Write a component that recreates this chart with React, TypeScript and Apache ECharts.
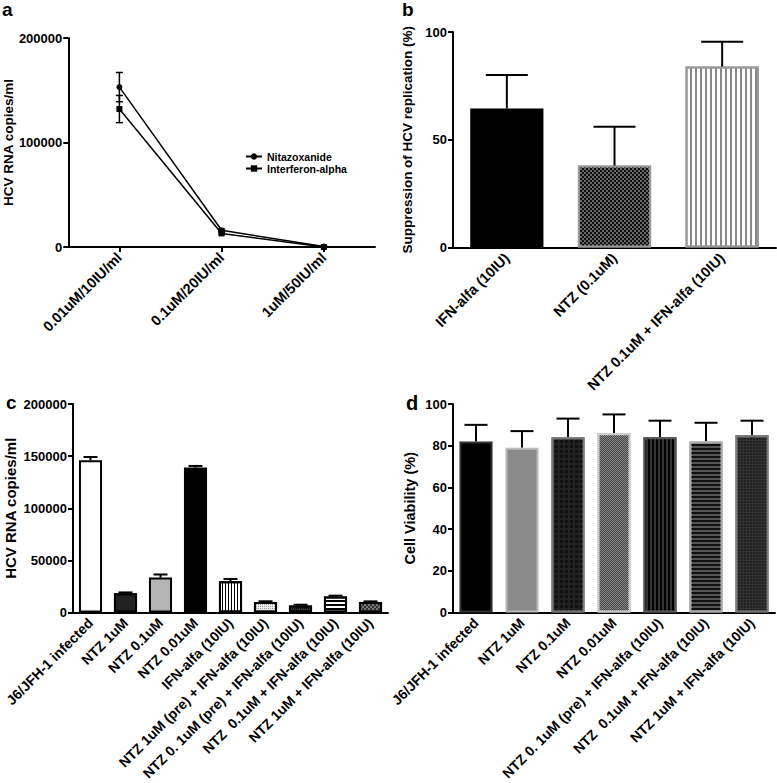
import React, { useEffect, useRef } from "react";
import * as echarts from "echarts";

// ---------- Panel a ----------
const catsA = ["0.01uM/10IU/ml", "0.1uM/20IU/ml", "1uM/50IU/ml"];
const ntzA = [153000, 16000, 500];
const ntzErrA = [14000, 1200, 300];
const ifnA = [132000, 13000, 0];
const ifnErrA = [13000, 900, 200];

// ---------- Panel b ----------
const catsB = ["IFN-alfa (10IU)", "NTZ (0.1uM)", "NTZ 0.1uM + IFN-alfa (10IU)"];
const valB = [64.5, 38, 84];
const errB = [15.5, 18, 11.5];

// ---------- Panel c ----------
const catsC = [
  "J6/JFH-1 infected",
  "NTZ 1uM",
  "NTZ 0.1uM",
  "NTZ 0.01uM",
  "IFN-alfa (10IU)",
  "NTZ 1uM (pre) + IFN-alfa (10IU)",
  "NTZ 0. 1uM (pre) + IFN-alfa (10IU)",
  "NTZ  0.1uM + IFN-alfa (10IU)",
  "NTZ 1uM + IFN-alfa (10IU)",
];
const valC = [146000, 18500, 33500, 139000, 30000, 10000, 6800, 15500, 10000];
const errC = [3200, 800, 3000, 1600, 2200, 800, 700, 700, 700];

// ---------- Panel d ----------
const catsD = [
  "J6/JFH-1 infected",
  "NTZ 1uM",
  "NTZ 0.1uM",
  "NTZ 0.01uM",
  "NTZ 0. 1uM (pre) + IFN-alfa (10IU)",
  "NTZ  0.1uM + IFN-alfa (10IU)",
  "NTZ 1uM + IFN-alfa (10IU)",
];
const valD = [82, 79, 84, 86, 84, 82, 85];
const errD = [8, 8, 9, 9, 8, 9, 7];

const FONT = "'Liberation Sans', Arial, Helvetica, sans-serif";

const checker = (fg: string, bg: string, s: number) => ({
  symbol: "rect",
  symbolSize: 1,
  color: fg,
  backgroundColor: bg,
  dashArrayX: [
    [s, s],
    [0, s, s, 0],
  ],
  dashArrayY: [s, 0],
});
const grid = (fg: string, bg: string, cell: number, line: number) => ({
  symbol: "rect",
  symbolSize: 1,
  color: fg,
  backgroundColor: bg,
  dashArrayX: [cell, line],
  dashArrayY: [cell, line],
});
const vstripe = (fg: string, bg: string, w: number, gap: number) => ({
  symbol: "rect",
  symbolSize: 1,
  color: fg,
  backgroundColor: bg,
  dashArrayX: [w, gap],
  dashArrayY: [4, 0],
});
const hstripe = (fg: string, bg: string, w: number, gap: number) => ({
  symbol: "rect",
  symbolSize: 1,
  color: fg,
  backgroundColor: bg,
  dashArrayX: [4, 0],
  dashArrayY: [w, gap],
});

const stylesB = [
  { color: "#000", borderColor: "#000", borderWidth: 2 },
  { color: "#666", borderColor: "#999", borderWidth: 2, decal: checker("#111", "#777", 2) },
  { color: "#fff", borderColor: "#999", borderWidth: 2, decal: vstripe("#888", "#fff", 2, 2.3) },
];
const stylesC = [
  { color: "#fff", borderColor: "#000", borderWidth: 2 },
  { color: "#222", borderColor: "#000", borderWidth: 2, decal: grid("#222", "#fff", 3, 1) },
  { color: "#b4b4b4", borderColor: "#000", borderWidth: 2 },
  { color: "#000", borderColor: "#000", borderWidth: 2 },
  { color: "#fff", borderColor: "#000", borderWidth: 2, decal: vstripe("#000", "#fff", 1, 2) },
  { color: "#eee", borderColor: "#000", borderWidth: 2, decal: grid("#999", "#f4f4f4", 1, 1) },
  { color: "#333", borderColor: "#000", borderWidth: 2, decal: grid("#000", "#666", 1, 1) },
  { color: "#fff", borderColor: "#000", borderWidth: 2, decal: hstripe("#000", "#fff", 1.5, 2) },
  { color: "#777", borderColor: "#000", borderWidth: 2, decal: checker("#333", "#aaa", 2) },
];
const stylesD = [
  { color: "#000", borderColor: "#333", borderWidth: 2 },
  { color: "#8a8a8a", borderColor: "#bbb", borderWidth: 2 },
  { color: "#222", borderColor: "#777", borderWidth: 2, decal: grid("#111", "#777", 3, 1.3) },
  { color: "#888", borderColor: "#ccc", borderWidth: 2, decal: checker("#444", "#bbb", 1) },
  { color: "#333", borderColor: "#555", borderWidth: 2, decal: vstripe("#000", "#888", 2, 1.5) },
  { color: "#555", borderColor: "#aaa", borderWidth: 2, decal: hstripe("#111", "#999", 2, 1.5) },
  { color: "#333", borderColor: "#777", borderWidth: 2, decal: grid("#222", "#555", 2, 1) },
];

function errRender(capW: number, both: boolean, lw: number) {
  return (params: any, api: any) => {
    const x = api.value(0);
    const y = api.value(1);
    const e = api.value(2);
    const mid = api.coord([x, y]);
    const top = api.coord([x, y + e]);
    const bot = api.coord([x, y - e]);
    const st = { stroke: "#000", lineWidth: lw };
    const children: any[] = [
      { type: "line", shape: { x1: mid[0], y1: mid[1], x2: top[0], y2: top[1] }, style: st },
      { type: "line", shape: { x1: top[0] - capW / 2, y1: top[1], x2: top[0] + capW / 2, y2: top[1] }, style: st },
    ];
    if (both) {
      children.push(
        { type: "line", shape: { x1: mid[0], y1: mid[1], x2: bot[0], y2: bot[1] }, style: st },
        { type: "line", shape: { x1: bot[0] - capW / 2, y1: bot[1], x2: bot[0] + capW / 2, y2: bot[1] }, style: st }
      );
    }
    return { type: "group", children };
  };
}

const axisLineStyle = { show: true, lineStyle: { color: "#000", width: 2 } };

function catAxis(gridIndex: number, data: string[], fontSize: number, ticks: boolean) {
  return {
    type: "category",
    gridIndex,
    data,
    axisLine: axisLineStyle,
    axisTick: { show: ticks, alignWithLabel: true, length: 5, lineStyle: { color: "#000", width: 2 } },
    axisLabel: {
      interval: 0,
      rotate: 45,
      margin: 8,
      color: "#000",
      fontFamily: FONT,
      fontWeight: "bold",
      fontSize,
    },
    splitLine: { show: false },
  };
}

function valAxis(
  gridIndex: number,
  max: number,
  interval: number,
  name: string,
  nameGap: number,
  nameSize: number
) {
  return {
    type: "value",
    gridIndex,
    min: 0,
    max,
    interval,
    name,
    nameLocation: "middle",
    nameGap,
    nameRotate: 90,
    nameTextStyle: { color: "#000", fontFamily: FONT, fontWeight: "bold", fontSize: nameSize },
    axisLine: axisLineStyle,
    axisTick: { show: true, length: 5, lineStyle: { color: "#000", width: 2 } },
    axisLabel: {
      color: "#000",
      fontFamily: FONT,
      fontWeight: "bold",
      fontSize: 13,
      margin: 6,
      formatter: (v: number) => String(v),
    },
    splitLine: { show: false },
  };
}

export default function App() {
  const ref = useRef<HTMLDivElement>(null);
  useEffect(() => {
    if (!ref.current) return;
    const chart = echarts.init(ref.current, undefined, { renderer: "svg" });
    const option: any = {
      animation: false,
      backgroundColor: "#fff",
      grid: [
        { left: 61, top: 38, width: 314, height: 209 },
        { left: 453, top: 32, width: 323, height: 215.5 },
        { left: 73, top: 404, width: 315, height: 211 },
        { left: 453, top: 404, width: 322, height: 215 },
      ],
      xAxis: [
        catAxis(0, catsA, 14.5, true),
        catAxis(1, catsB, 14.5, false),
        catAxis(2, catsC, 14, false),
        catAxis(3, catsD, 14, false),
      ],
      yAxis: [
        valAxis(0, 200000, 100000, "HCV RNA copies/ml", 42, 13.5),
        valAxis(1, 100, 50, "Suppression of HCV replication (%)", 39, 13.5),
        valAxis(2, 200000, 50000, "HCV RNA copies/ml", 55, 15),
        valAxis(3, 100, 20, "Cell Viability (%)", 36, 14.5),
      ],
      legend: {
        left: 240,
        top: 146,
        orient: "vertical",
        itemGap: 1,
        itemWidth: 16,
        itemHeight: 8,
        textStyle: { color: "#000", fontFamily: FONT, fontWeight: "bold", fontSize: 10.5 },
        data: ["Nitazoxanide", "Interferon-alpha"],
      },
      graphic: [
        { type: "text", left: 2, top: 0, style: { text: "a", fontFamily: FONT, fontWeight: "bold", fontSize: 19, fill: "#000" } },
        { type: "text", left: 402, top: 0, style: { text: "b", fontFamily: FONT, fontWeight: "bold", fontSize: 19, fill: "#000" } },
        { type: "text", left: 6, top: 393, style: { text: "c", fontFamily: FONT, fontWeight: "bold", fontSize: 19, fill: "#000" } },
        { type: "text", left: 406, top: 393, style: { text: "d", fontFamily: FONT, fontWeight: "bold", fontSize: 20, fill: "#000" } },
      ],
      series: [
        {
          name: "Nitazoxanide",
          type: "line",
          xAxisIndex: 0,
          yAxisIndex: 0,
          data: ntzA,
          symbol: "circle",
          symbolSize: 6,
          itemStyle: { color: "#000" },
          lineStyle: { color: "#000", width: 1.5 },
        },
        {
          name: "Interferon-alpha",
          type: "line",
          xAxisIndex: 0,
          yAxisIndex: 0,
          data: ifnA,
          symbol: "rect",
          symbolSize: 6,
          itemStyle: { color: "#000" },
          lineStyle: { color: "#000", width: 1.5 },
        },
        {
          type: "custom",
          xAxisIndex: 0,
          yAxisIndex: 0,
          renderItem: errRender(7, true, 1.5),
          data: ntzA.map((v, i) => [i, v, ntzErrA[i]]),
          z: 5,
        },
        {
          type: "custom",
          xAxisIndex: 0,
          yAxisIndex: 0,
          renderItem: errRender(7, true, 1.5),
          data: ifnA.map((v, i) => [i, v, ifnErrA[i]]),
          z: 5,
        },
        {
          type: "bar",
          xAxisIndex: 1,
          yAxisIndex: 1,
          barWidth: "68%",
          data: valB.map((v, i) => ({ value: v, itemStyle: stylesB[i] })),
        },
        {
          type: "custom",
          xAxisIndex: 1,
          yAxisIndex: 1,
          renderItem: errRender(42, false, 2),
          data: valB.map((v, i) => [i, v, errB[i]]),
          z: 5,
        },
        {
          type: "bar",
          xAxisIndex: 2,
          yAxisIndex: 2,
          barWidth: "66%",
          data: valC.map((v, i) => ({ value: v, itemStyle: stylesC[i] })),
        },
        {
          type: "custom",
          xAxisIndex: 2,
          yAxisIndex: 2,
          renderItem: errRender(14, false, 2),
          data: valC.map((v, i) => [i, v, errC[i]]),
          z: 5,
        },
        {
          type: "bar",
          xAxisIndex: 3,
          yAxisIndex: 3,
          barWidth: "72%",
          data: valD.map((v, i) => ({ value: v, itemStyle: stylesD[i] })),
        },
        {
          type: "custom",
          xAxisIndex: 3,
          yAxisIndex: 3,
          renderItem: errRender(23, false, 2),
          data: valD.map((v, i) => [i, v, errD[i]]),
          z: 1,
        },
      ],
    };
    chart.setOption(option);
    return () => chart.dispose();
  }, []);
  return (
    <div
      ref={ref}
      style={{ position: "absolute", left: 0, top: 0, width: 777, height: 783, background: "#fff" }}
    />
  );
}
